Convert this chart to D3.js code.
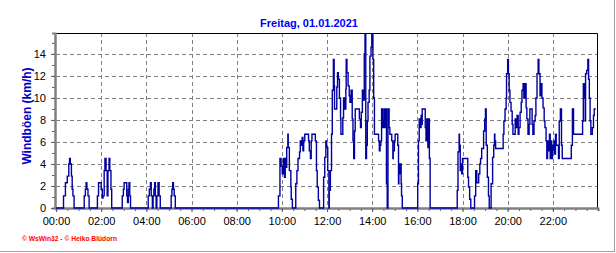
<!DOCTYPE html>
<meta charset="utf-8">
<head>
<script src="https://d3js.org/d3.v7.min.js"></script>
<style>
    body { margin: 0; background: #fff; }
    svg { display: block; font-family: "Liberation Sans", Arial, sans-serif; }
    .grid line { stroke: #808080; stroke-dasharray: 4,3; }
    .axis text { font-size: 11px; fill: #000; }
    .axis line { stroke: #606060; }
    .axis path { stroke: #808080; stroke-width: 2; }
</style>
</head>
<body>
<svg width="616" height="253"></svg>
<script>

var title = "Freitag, 01.01.2021",
    yLabel = "Windböen (km/h)",
    credit = "\u00a9 WsWin32 - \u00a9 Heiko Blüdorn";

var hourLabels = ["00:00","02:00","04:00","06:00","08:00","10:00","12:00","14:00","16:00","18:00","20:00","22:00"];
var yTicks = [0, 2, 4, 6, 8, 10, 12, 14];

// step changes: minute of day -> gust (km/h)
var gustMinutes = [0,
    20,25,30,34,36,38,41,43,45,48, 75,78,80,82,85,88,
    110,113,120,123,125,128,130,133,136,138,141,143,146,148,
    176,179,181,188,190,192,194,196,198,
    245,248,251,253,256,258,260,262,264,266,268,271,274,277,
    306,308,310,312,314,317,
    591,595,598,601,604,607,609,611,613,616,617,620,624,625,628,
    637,640,643,647,649,652,654,656,658,661,671,673,676,678,680,689,692,694,697,700,
    711,714,717,719,722,725,726,729,732,734,737,739,740,746,748,750,753,756,757,762,764,767,770,771,773,776,779,781,784,787,789,791,793,795,
    806,809,811,814,817,819,821,823,825,827,829,832,834,837,839,842,844,846,857,859,861,863,865,868,870,872,873,875,876,878,880,882,885,887,
    892,895,896,899,901,908,910,911,913,915,917,918,920,
    961,963,965,967,970,972,973,981,983,985,987,988,990,992,994,
    1066,1068,1071,1072,1074,1076,1078,1080,1094,1096,1099,1102,
    1112,1115,1118,1123,1126,1128,1131,1136,1139,1141,1143,1146,1149,1151,
    1156,1160,1163,1165,1166,1168,1188,1190,1193,1196,1197,1200,1202,1204,1206,1209,1212,1214,
    1220,1222,1225,1228,1230,1233,1236,1238,1241,1243,1246,1249,1251,1254,1257,1259,1265,1267,1270,1273,1275,1278,1281,1283,1286,1289,1291,1294,1297,1299,
    1302,1304,1306,1308,1311,1313,1315,1317,1319,1321,1323,1325,1327,1329,1335,1337,1340,1343,1345,1369,1372,1375,
    1399,1401,1404,1406,1407,1410,1413,1415,1417,1419,1421,1425,1428,1430,1434];
var gustKmh = [0,
    1.1,2.3,2.9,4.0,4.5,4.0,2.9,1.7,1.1,0, 1.1,1.7,2.3,1.7,1.1,0,
    1.1,2.3,1.7,0.9,1.1,3.4,4.5,3.4,1.1,3.4,4.5,3.4,1.7,0,
    1.1,1.7,2.3,1.1,0.5,1.7,2.3,1.1,0,
    1.1,1.7,2.3,1.1,0,1.1,1.7,2.3,1.1,0,1.1,2.3,1.1,0,
    1.1,1.7,2.3,1.7,1.1,0,
    1.1,4.5,3.8,3.1,4.5,2.8,4.5,3.7,5.5,6.7,5.5,3.4,1.9,0.8,0,
    2.2,3.4,4.5,5.1,6.1,5.7,6.4,5.2,6.1,6.7,6.1,5.2,4.5,6.1,6.7,6.1,3.4,1.9,0.7,0,
    2.8,4.6,6.1,5.5,3.4,0,1.6,3.4,6.7,10.7,13.5,11.1,9.0,11.0,12.3,11.7,10.0,8.1,6.7,8.2,10.0,9.0,10.8,13.5,12.3,11.1,10.2,9.6,10.7,8.1,6.1,4.5,7.0,9.0,
    8.1,7.3,8.7,10.7,9.8,14.0,15.8,4.5,5.7,7.9,9.6,10.7,13.8,14.6,15.8,13.5,10.0,6.7,6.1,5.2,5.7,6.1,9.0,7.3,8.0,9.0,7.3,8.0,9.0,2.2,0,9.0,7.3,6.7,
    6.1,4.5,5.2,6.1,6.7,5.7,2.2,4.0,3.1,4.0,2.2,1.1,0,
    2.2,6.1,8.1,7.3,8.4,7.6,9.0,7.3,6.1,8.1,6.1,5.5,8.1,4.5,0,
    1.6,5.1,6.7,5.7,3.4,4.0,3.1,4.5,2.8,1.9,0.8,0,
    1.1,3.4,2.3,3.1,4.0,4.5,5.4,7.0,8.1,9.0,5.7,2.8,1.1,0,
    2.2,4.6,5.7,6.7,6.1,5.4,6.7,7.9,9.0,10.0,12.2,13.5,12.2,10.7,9.6,8.8,7.6,6.7,
    8.1,7.3,8.4,6.7,7.3,8.7,9.6,10.7,11.3,10.0,11.3,9.1,8.1,6.7,7.6,9.0,7.6,6.7,7.9,8.4,10.0,12.2,13.5,12.2,10.2,11.3,10.0,9.1,7.9,7.3,
    6.1,4.5,6.1,5.2,6.7,4.5,6.1,4.5,5.7,5.2,6.1,4.9,6.7,5.7,4.5,7.9,9.0,5.7,4.5,5.7,9.0,6.7,
    7.9,11.3,10.0,7.9,12.2,12.5,13.5,11.7,10.0,7.9,6.7,7.3,8.4,9.0,9.0];

var svg = d3.select("svg"),
    plotL = 56, plotR = 598, plotT = 33, plotB = 208;

var x = d3.scaleLinear().domain([0, 1440]).range([plotL, plotR]),
    y = d3.scaleLinear().domain([0, 15.9]).range([plotB, plotT]);

// outer panel edge
svg.append("line").attr("x1", 614.5).attr("x2", 614.5).attr("y1", 0).attr("y2", 252)
    .attr("stroke", "#a0a0a0");
svg.append("line").attr("x1", 0).attr("x2", 615).attr("y1", 251.5).attr("y2", 251.5)
    .attr("stroke", "#a0a0a0");

svg.append("text")
    .attr("x", 309).attr("y", 27)
    .attr("text-anchor", "middle")
    .attr("font-size", "11px").attr("font-weight", "bold")
    .attr("fill", "#0000ff")
    .text(title);

svg.append("text")
    .attr("transform", "translate(31,116) rotate(-90)")
    .attr("text-anchor", "middle")
    .attr("font-size", "12px").attr("font-weight", "bold")
    .attr("fill", "#0000cc")
    .text(yLabel);

svg.append("text")
    .attr("x", 22).attr("y", 241)
    .attr("font-size", "7px").attr("font-weight", "bold")
    .attr("fill", "#ff0000")
    .attr("textLength", 95).attr("lengthAdjust", "spacingAndGlyphs")
    .text(credit);

// grid
var grid = svg.append("g").attr("class", "grid");
grid.selectAll(".h").data(yTicks.slice(1)).enter().append("line")
    .attr("x1", plotL).attr("x2", plotR)
    .attr("y1", function(d) { return Math.round(y(d)) + 0.5; })
    .attr("y2", function(d) { return Math.round(y(d)) + 0.5; });
grid.selectAll(".v").data(hourLabels.slice(1)).enter().append("line")
    .attr("x1", function(d, i) { return Math.round(x((i + 1) * 120)) + 0.5; })
    .attr("x2", function(d, i) { return Math.round(x((i + 1) * 120)) + 0.5; })
    .attr("y1", plotT).attr("y2", plotB);

// frame top/right
svg.append("path")
    .attr("d", "M" + (plotL - 1) + "," + (plotT + 0.5) + "H" + (plotR - 0.5) + "V" + plotB)
    .attr("fill", "none").attr("stroke", "#000");

// minor ticks
svg.append("g").attr("class", "axis")
    .attr("transform", "translate(0," + plotB + ")")
    .call(d3.axisBottom(x).tickValues(d3.range(0, 1441, 30)).tickSize(3).tickFormat(""));
svg.append("g").attr("class", "axis")
    .attr("transform", "translate(" + (plotL - 1) + ",0)")
    .call(d3.axisLeft(y).tickValues(d3.range(0, 16, 1)).tickSize(3).tickFormat(""));

svg.append("g").attr("class", "axis")
    .attr("transform", "translate(0," + plotB + ")")
    .call(d3.axisBottom(x)
        .tickValues(hourLabels.map(function(d, i) { return i * 120; }))
        .tickFormat(function(d, i) { return hourLabels[i]; })
        .tickSize(4).tickSizeOuter(0).tickPadding(5));

svg.append("g").attr("class", "axis")
    .attr("transform", "translate(" + (plotL - 1) + ",0)")
    .call(d3.axisLeft(y).tickValues(yTicks).tickSize(4).tickSizeOuter(0).tickPadding(5));

var data = gustMinutes.map(function(m, i) { return {m: m, v: gustKmh[i]}; });

var line = d3.line()
    .x(function(d) { return x(d.m); })
    .y(function(d) { return y(d.v); })
    .curve(d3.curveStepAfter);

svg.append("path")
    .datum(data)
    .attr("fill", "none")
    .attr("stroke", "#0000a0")
    .attr("stroke-width", 1.4)
    .attr("d", line);

</script>
</body>
